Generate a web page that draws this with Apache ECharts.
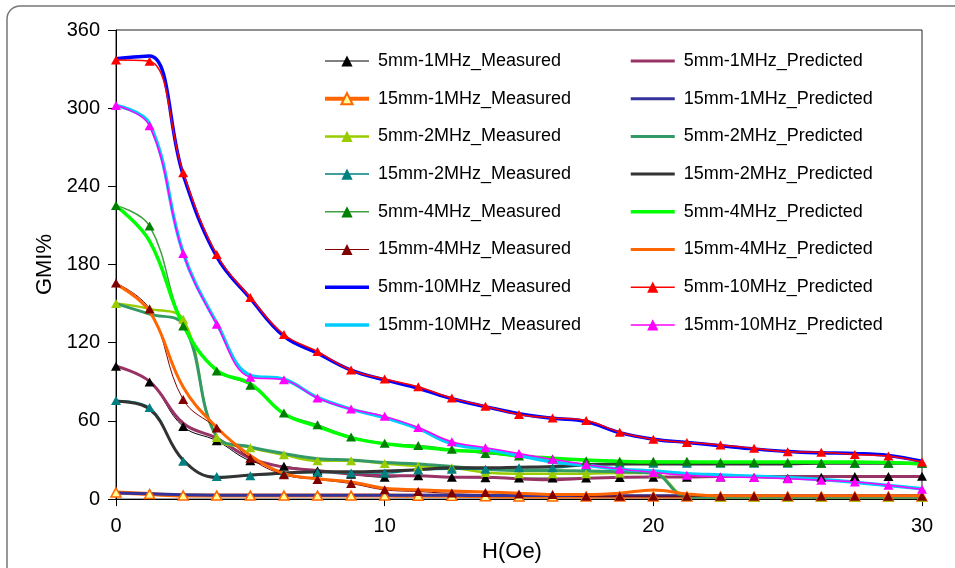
<!DOCTYPE html>
<html>
<head>
<meta charset="utf-8">
<script src="https://cdn.jsdelivr.net/npm/echarts@6/dist/echarts.min.js"></script>
<style>
html,body{margin:0;padding:0;background:#fff;}
#chart{width:955px;height:568px;}
</style>
</head>
<body>
<div id="chart"></div>
<script>
// H (Oe) sample points
const hValues = [0,1.25,2.5,3.75,5,6.25,7.5,8.75,10,11.25,12.5,13.75,15,16.25,17.5,18.75,20,21.25,22.5,23.75,25,26.25,27.5,28.75,30];
const xTicks = [0,10,20,30];
const yTicks = [0,60,120,180,240,300,360];

// GMI% values
const m5mm1MHz  = [102,89.8,55.7,44.8,29.4,25.3,21.7,19,16.8,18,16.8,16.3,16.1,16.1,16.1,16.5,16.8,16.8,17,16.5,16,16.8,17.3,17.3,17.5];
const p5mm1MHz  = [102,90.3,58.2,46.7,31.4,24.5,22,19.2,18,18,16.8,16.8,15.6,14.8,16,16.8,17,17,17.3,17.3,17.3,17.3,17.3,17.3,17.3];
const m15mm1MHz = [5.1,3.9,2.8,2.7,2.7,2.7,2.7,2.7,2.7,2.6,2.5,2.2,2,2,2,2,2,2,2,2,2,2,2,2,2];
const p15mm1MHz = [4.6,4.1,3.3,3,3,3,3,3,3,3,2.9,2.8,2.7,2.7,2.7,2.6,2.6,2.5,2.5,2.5,2.5,2.5,2.5,2.5,2.5];
const m5mm2MHz  = [150.2,146,138,47.2,39.4,34,29.4,29.4,27.3,25.3,24.1,20.4,19.5,19.5,19.5,20,20,2,1.5,1.5,1.5,1.5,1.5,1.5,1.5];
const p5mm2MHz  = [150,142,134,48,40,35,31,30,28,27,25,23,22,22,21.5,21,20,1.5,1.5,1.5,1.5,1.5,1.5,1.5,1.5];
const m15mm2MHz = [75.7,70.3,29,17.3,18,19.5,20.4,20,20,22.4,22.9,22.9,24.1,24.1,26,27.5,27.5,27.5,27.5,27.5,27.5,27.5,27.5,27.5,27.5];
const p15mm2MHz = [75,69,30,16.5,18.5,20,21,21,21.5,22.5,24,24,24.5,25,26.5,27,27,27,27,27,27,27.5,27.5,27.5,27.5];
const m5mm4MHz  = [225.4,209.6,132.9,98.3,87.4,66,57,47.7,42.8,41.1,38.2,35,33,31,29.4,29,29,29,28,28,28,27.5,27.5,27.5,27.5];
const p5mm4MHz  = [225,198,133.6,98.8,88.6,65.5,55.7,47.2,42.4,40,37.5,36.3,33,31.4,30,29,28.5,28.5,28.5,28.5,28.5,28.5,28.5,28,27];
const m15mm4MHz = [165.8,145.8,76.4,54.5,31.4,18.7,15.1,11.9,7.1,5.8,4.6,5,4,3.5,2.2,2.2,2.2,2.2,2.2,2.2,2.2,2.2,2.2,2.2,2.2];
const p15mm4MHz = [165,144,86,55,33.5,19.7,15.6,13.1,8.3,7.1,6.3,5.5,4.5,3.5,3.5,4.5,7,4,2.5,2.5,2.5,2.5,2.5,2.5,2.5];
const m5mm10MHz = [338,340,249,186,154,125,112,99,91.5,85,77,71,65.5,62,59.5,51,46,43.5,41,38.5,36.5,35.5,35,33.5,29];
const p5mm10MHz = [337,336,250.5,187.7,154.8,126.3,113.2,99,92.2,86.2,77.5,71.3,65,62.3,60.3,51.3,46,43.5,41.6,39,36.3,36,34.3,33,28.4];
const m15mm10MHz= [302,288,189,135,95,92,78,69,62.5,54,42.5,38.5,33.5,28.5,26,23,21.5,19.5,18.5,17.5,16.5,15,13,10.5,8];
const p15mm10MHz= [302,286.5,188.4,134.1,93.5,91.5,77.6,69.1,63.5,55,44,39.5,35,30.5,26.5,23,20.5,18.3,17,16.5,15.6,14.4,13.1,10.7,7.5];

const measuredNames = ['5mm-1MHz_Measured','15mm-1MHz_Measured','5mm-2MHz_Measured','15mm-2MHz_Measured','5mm-4MHz_Measured','15mm-4MHz_Measured','5mm-10MHz_Measured','15mm-10MHz_Measured'];
const predictedNames = ['5mm-1MHz_Predicted','15mm-1MHz_Predicted','5mm-2MHz_Predicted','15mm-2MHz_Predicted','5mm-4MHz_Predicted','15mm-4MHz_Predicted','5mm-10MHz_Predicted','15mm-10MHz_Predicted'];

const FONT = 'Liberation Sans, Arial, sans-serif';
const SMOOTH = 0.4;

function mk(name, vals, color, width, marker) {
  const s = {
    type: 'line', name: name,
    data: hValues.map((h, i) => [h, vals[i]]),
    smooth: SMOOTH,
    lineStyle: {color: color, width: width},
    emphasis: {disabled: true},
    silent: true
  };
  if (marker) {
    s.symbol = 'triangle';
    s.symbolSize = [10, 9];
    s.showSymbol = true;
    s.showAllSymbol = true;
    s.itemStyle = Object.assign({color: marker.fill, borderWidth: 0}, marker.extra || {});
  } else {
    // no markers drawn; legend symbol made invisible
    s.symbol = 'circle';
    s.showSymbol = false;
    s.itemStyle = {color: color, opacity: 0};
  }
  return s;
}

const series = [
  mk('5mm-1MHz_Measured', m5mm1MHz, '#000000', 1, {fill:'#000000'}),
  mk('5mm-1MHz_Predicted', p5mm1MHz, '#993366', 3),
  mk('15mm-1MHz_Measured', m15mm1MHz, '#FF6600', 4, {fill:'#FFFF99', extra:{borderColor:'#FF6600', borderWidth:1.5}}),
  mk('15mm-1MHz_Predicted', p15mm1MHz, '#333399', 3),
  mk('5mm-2MHz_Measured', m5mm2MHz, '#99CC00', 2.5, {fill:'#99CC00'}),
  mk('5mm-2MHz_Predicted', p5mm2MHz, '#339966', 3),
  mk('15mm-2MHz_Measured', m15mm2MHz, '#008080', 1.5, {fill:'#008080'}),
  mk('15mm-2MHz_Predicted', p15mm2MHz, '#333333', 3),
  mk('5mm-4MHz_Measured', m5mm4MHz, '#3F9F3F', 1.5, {fill:'#008000'}),
  mk('5mm-4MHz_Predicted', p5mm4MHz, '#00FF00', 3.5),
  mk('15mm-4MHz_Measured', m15mm4MHz, '#800000', 1, {fill:'#800000'}),
  mk('15mm-4MHz_Predicted', p15mm4MHz, '#FF6600', 3),
  mk('5mm-10MHz_Measured', m5mm10MHz, '#0000FF', 3.5),
  mk('5mm-10MHz_Predicted', p5mm10MHz, '#FF0000', 1.5, {fill:'#FF0000'}),
  mk('15mm-10MHz_Measured', m15mm10MHz, '#00CCFF', 3.5),
  mk('15mm-10MHz_Predicted', p15mm10MHz, '#FF00FF', 1.5, {fill:'#FF00FF'})
];

const legendBase = {
  orient: 'vertical', top: 46, itemWidth: 44, itemHeight: 14, itemGap: 17.7,
  selectedMode: false,
  lineStyle: {width: 'inherit'},
  textStyle: {fontSize: 18, fontFamily: FONT, color: '#000', lineHeight: 20, padding: [0,0,0,4]}
};

const chart = echarts.init(document.getElementById('chart'), null, {renderer: 'canvas'});
chart.setOption({
  animation: false,
  backgroundColor: '#fff',
  graphic: [{
    type: 'rect', z: -1,
    shape: {x: 7, y: 6, width: 970, height: 590, r: 13},
    style: {fill: 'none', stroke: '#777', lineWidth: 1.5}
  }],
  grid: {left: 116, right: 33, top: 30, bottom: 45, show: true, borderColor: '#222', borderWidth: 1, backgroundColor: 'transparent'},
  legend: [
    Object.assign({}, legendBase, {left: 318, data: measuredNames}),
    Object.assign({}, legendBase, {left: 624, data: predictedNames})
  ],
  xAxis: {
    type: 'value', min: xTicks[0], max: xTicks[xTicks.length-1], interval: 10,
    name: 'H(Oe)', nameLocation: 'middle', nameGap: 19,
    nameTextStyle: {fontSize: 22, fontFamily: FONT, color: '#000', padding: [0, 14, 0, 0], verticalAlign: 'top'},
    axisLine: {show: true, onZero: false, lineStyle: {color: '#000', width: 1}},
    axisTick: {show: true, inside: false, length: 7, lineStyle: {color: '#000'}},
    axisLabel: {fontSize: 20, fontFamily: FONT, color: '#000', margin: 17},
    splitLine: {show: false}
  },
  yAxis: {
    type: 'value', min: yTicks[0], max: yTicks[yTicks.length-1], interval: 60,
    name: 'GMI%', nameLocation: 'middle', nameGap: 58, nameRotate: 90,
    nameTextStyle: {fontSize: 22, fontFamily: FONT, color: '#000'},
    axisLine: {show: true, lineStyle: {color: '#000', width: 1}},
    axisTick: {show: true, inside: false, length: 8, lineStyle: {color: '#000'}},
    axisLabel: {fontSize: 20, fontFamily: FONT, color: '#000', margin: 16},
    splitLine: {show: false}
  },
  series: series
});
</script>
</body>
</html>
